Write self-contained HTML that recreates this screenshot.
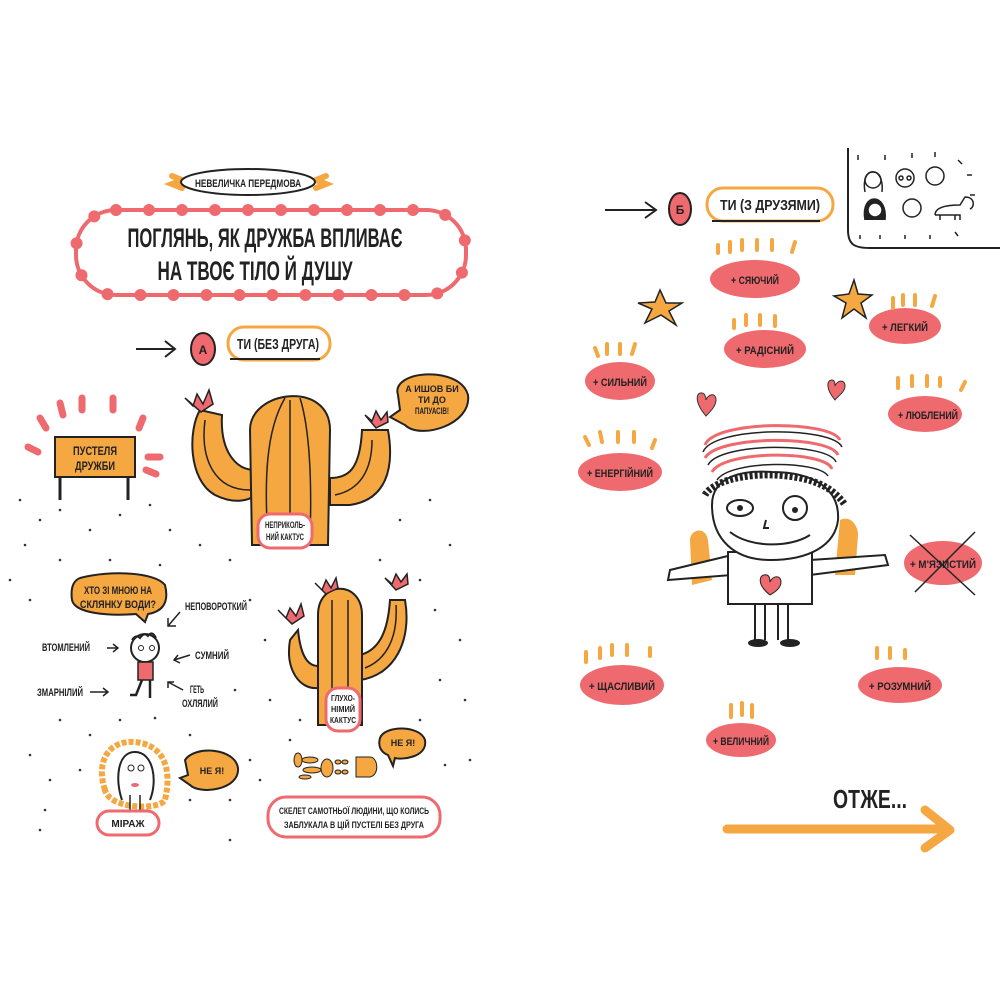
<!DOCTYPE html>
<html><head><meta charset="utf-8"><style>
html,body{margin:0;padding:0;background:#fff;}
svg{display:block}
text{font-family:"Liberation Sans","DejaVu Sans",sans-serif;font-weight:bold;fill:#222;}
</style></head><body>
<svg width="1000" height="1000" viewBox="0 0 1000 1000" xmlns="http://www.w3.org/2000/svg">
<defs>
<g id="tk"><line x1="0" y1="0" x2="0" y2="10" stroke="#f5a742" stroke-width="4" stroke-linecap="round"/></g>
</defs>
<rect width="1000" height="1000" fill="#fff"/>

<!-- desert dots -->
<g fill="#333">
<circle cx="20" cy="500" r="1.3"/><circle cx="40" cy="520" r="1.3"/><circle cx="25" cy="545" r="1.3"/><circle cx="60" cy="510" r="1.3"/><circle cx="90" cy="530" r="1.3"/><circle cx="120" cy="515" r="1.3"/><circle cx="150" cy="505" r="1.3"/><circle cx="170" cy="530" r="1.3"/><circle cx="200" cy="545" r="1.3"/><circle cx="60" cy="560" r="1.3"/><circle cx="110" cy="560" r="1.3"/><circle cx="160" cy="565" r="1.3"/><circle cx="230" cy="560" r="1.3"/><circle cx="10" cy="580" r="1.3"/><circle cx="30" cy="600" r="1.3"/><circle cx="250" cy="600" r="1.3"/><circle cx="265" cy="640" r="1.3"/><circle cx="430" cy="500" r="1.3"/><circle cx="400" cy="520" r="1.3"/><circle cx="450" cy="545" r="1.3"/><circle cx="380" cy="560" r="1.3"/><circle cx="420" cy="580" r="1.3"/><circle cx="435" cy="610" r="1.3"/><circle cx="460" cy="640" r="1.3"/><circle cx="440" cy="680" r="1.3"/><circle cx="465" cy="700" r="1.3"/><circle cx="420" cy="720" r="1.3"/><circle cx="60" cy="720" r="1.3"/><circle cx="90" cy="735" r="1.3"/><circle cx="120" cy="720" r="1.3"/><circle cx="155" cy="718" r="1.3"/><circle cx="190" cy="735" r="1.3"/><circle cx="30" cy="755" r="1.3"/><circle cx="50" cy="780" r="1.3"/><circle cx="80" cy="770" r="1.3"/><circle cx="45" cy="810" r="1.3"/><circle cx="40" cy="830" r="1.3"/><circle cx="190" cy="800" r="1.3"/><circle cx="230" cy="800" r="1.3"/><circle cx="250" cy="760" r="1.3"/><circle cx="260" cy="780" r="1.3"/><circle cx="290" cy="740" r="1.3"/><circle cx="270" cy="700" r="1.3"/><circle cx="445" cy="765" r="1.3"/><circle cx="470" cy="760" r="1.3"/><circle cx="230" cy="840" r="1.3"/><circle cx="300" cy="720" r="1.3"/><circle cx="235" cy="690" r="1.3"/>
</g>

<!-- header pill -->
<path d="M172 176 l10 4 l-10 4 l10 4 M326 176 l-10 4 l10 4 l-10 4" stroke="#f5a742" stroke-width="6" fill="none" stroke-linecap="round"/>
<ellipse cx="248" cy="182" rx="67" ry="13" fill="#fff" stroke="#222" stroke-width="2"/>
<text x="248" y="187" font-size="11" text-anchor="middle" textLength="106" lengthAdjust="spacingAndGlyphs">НЕВЕЛИЧКА ПЕРЕДМОВА</text>

<!-- title dotted frame -->
<rect x="76" y="210" width="390" height="85" rx="40" fill="none" stroke="#ee6a6f" stroke-width="4"/>
<rect x="76" y="210" width="390" height="85" rx="40" fill="none" stroke="#ee6a6f" stroke-width="12" stroke-dasharray="0 33" stroke-linecap="round"/>
<text x="265" y="247" font-size="27" text-anchor="middle" textLength="275" lengthAdjust="spacingAndGlyphs">ПОГЛЯНЬ, ЯК ДРУЖБА ВПЛИВАЄ</text>
<text x="255" y="280" font-size="27" text-anchor="middle" textLength="195" lengthAdjust="spacingAndGlyphs">НА ТВОЄ ТІЛО Й ДУШУ</text>

<!-- A section -->
<path d="M136 349 H174 M165 341 L175 349 L165 357" stroke="#222" stroke-width="2" fill="none"/>
<ellipse cx="203" cy="349" rx="12" ry="16" fill="#ee6a6f" stroke="#222" stroke-width="2"/>
<text x="203" y="354" font-size="12" text-anchor="middle">А</text>
<rect x="228" y="327" width="102" height="33" rx="16" fill="#fff" stroke="#f5a742" stroke-width="3"/>
<line x1="230" y1="359" x2="320" y2="359" stroke="#222" stroke-width="2"/>
<text x="278" y="349" font-size="15" text-anchor="middle" textLength="82" lengthAdjust="spacingAndGlyphs">ТИ (БЕЗ ДРУГА)</text>

<!-- sign -->
<g stroke="#ee6a6f" stroke-width="7" stroke-linecap="round">
<line x1="60" y1="403" x2="63" y2="415"/><line x1="82" y1="398" x2="82" y2="410"/><line x1="113" y1="398" x2="113" y2="410"/><line x1="143" y1="418" x2="139" y2="428"/><line x1="40" y1="418" x2="46" y2="428"/><line x1="28" y1="447" x2="38" y2="452"/><line x1="148" y1="457" x2="160" y2="457"/><line x1="146" y1="470" x2="156" y2="474"/>
</g>
<rect x="55" y="437" width="80" height="40" fill="#f5a742" stroke="#222" stroke-width="2"/>
<text x="95" y="455" font-size="12" text-anchor="middle" textLength="44" lengthAdjust="spacingAndGlyphs">ПУСТЕЛЯ</text>
<text x="95" y="470" font-size="12" text-anchor="middle" textLength="40" lengthAdjust="spacingAndGlyphs">ДРУЖБИ</text>
<path d="M60 477 V500 M128 477 V500" stroke="#222" stroke-width="3"/>

<!-- cactus 1 -->
<g stroke="#222" stroke-width="2" fill="#f5a742">
<path d="M200 410 C188 430 188 480 215 495 C235 505 250 500 255 495 L255 470 C235 470 220 450 222 415 Z"/>
<path d="M388 430 C395 470 385 500 350 505 L330 505 L330 478 C348 478 360 470 362 430 Z"/>
<path d="M252 545 L250 430 C250 390 330 380 330 430 L328 545 Z"/>
</g>
<g stroke="#222" stroke-width="1.5" fill="none">
<path d="M268 540 C264 480 266 430 285 398 M290 540 V400 M310 540 C312 480 310 430 300 398"/>
<path d="M205 420 C200 460 215 490 250 490 M372 440 C372 470 360 490 335 495"/>
</g>
<path d="M185 398 l8 8 l4-12 l6 10 l6-14 l4 14 l-12 8 z" fill="#ee6a6f" stroke="#222" stroke-width="1.5"/>
<path d="M365 415 l7 6 l4-10 l5 9 l6-8 l1 10 l-12 6 z" fill="#ee6a6f" stroke="#222" stroke-width="1.5"/>
<path d="M398 395 C390 370 460 365 468 395 C472 425 420 440 405 425 L390 417 L400 410 Z" fill="#f5a742" stroke="#222" stroke-width="2"/>
<text x="432" y="392" font-size="9" text-anchor="middle">А ИШОВ БИ</text>
<text x="432" y="403" font-size="9" text-anchor="middle">ТИ ДО</text>
<text x="432" y="414" font-size="9" text-anchor="middle" textLength="34" lengthAdjust="spacingAndGlyphs">ПАПУАСІВ!</text>
<rect x="258" y="514" width="54" height="34" rx="12" fill="#fff" stroke="#ee6a6f" stroke-width="3"/>
<text x="285" y="528" font-size="9" text-anchor="middle" textLength="40" lengthAdjust="spacingAndGlyphs">НЕПРИКОЛЬ-</text>
<text x="285" y="540" font-size="9" text-anchor="middle" textLength="38" lengthAdjust="spacingAndGlyphs">НИЙ КАКТУС</text>

<!-- question bubble + boy -->
<path d="M80 578 C110 570 155 572 165 585 C170 605 160 612 148 614 L145 622 L136 614 C110 616 75 614 72 600 C70 585 75 580 80 578Z" fill="#f5a742" stroke="#222" stroke-width="2"/>
<text x="118" y="594" font-size="11" text-anchor="middle" textLength="68" lengthAdjust="spacingAndGlyphs">ХТО ЗІ МНОЮ НА</text>
<text x="118" y="608" font-size="11" text-anchor="middle" textLength="76" lengthAdjust="spacingAndGlyphs">СКЛЯНКУ ВОДИ?</text>
<text x="185" y="610" font-size="11" textLength="62" lengthAdjust="spacingAndGlyphs">НЕПОВОРОТКИЙ</text>
<text x="42" y="651" font-size="11" textLength="48" lengthAdjust="spacingAndGlyphs">ВТОМЛЕНИЙ</text>
<text x="195" y="659" font-size="11" textLength="34" lengthAdjust="spacingAndGlyphs">СУМНИЙ</text>
<text x="37" y="696" font-size="11" textLength="46" lengthAdjust="spacingAndGlyphs">ЗМАРНІЛИЙ</text>
<text x="190" y="693" font-size="11" textLength="14" lengthAdjust="spacingAndGlyphs">ГЕТЬ</text>
<text x="182" y="707" font-size="11" textLength="36" lengthAdjust="spacingAndGlyphs">ОХЛЯЛИЙ</text>
<g stroke="#222" stroke-width="1.5" fill="none">
<path d="M180 612 L168 626 M168 618 V626 H176"/>
<path d="M107 648 H118 M113 644 L118 648 L113 652"/>
<path d="M190 655 L174 660 M178 655 L174 660 L180 663"/>
<path d="M90 692 H108 M103 688 L108 692 L103 696"/>
<path d="M183 690 L168 682 M168 688 V682 H174"/>
</g>
<circle cx="145" cy="648" r="14" fill="#fff" stroke="#222" stroke-width="2"/>
<path d="M132 640 q4-6 8-2 q4-6 8-2 q4-6 8 2" stroke="#222" stroke-width="2" fill="none"/>
<circle cx="141" cy="648" r="2.5" fill="none" stroke="#222"/><circle cx="152" cy="648" r="2.5" fill="none" stroke="#222"/>
<path d="M138 662 h15 v18 h-15z" fill="#ee6a6f" stroke="#222" stroke-width="1.5"/>
<path d="M142 680 L136 695 H130 M150 680 L150 698" stroke="#222" stroke-width="2.5" fill="none"/>

<!-- cactus 2 -->
<g stroke="#222" stroke-width="2" fill="#f5a742">
<path d="M290 640 C285 670 300 690 318 688 L318 666 C305 666 300 650 298 630 Z"/>
<path d="M405 600 C412 640 395 675 360 680 L360 655 C380 650 388 630 390 600 Z"/>
<path d="M318 725 L318 615 C318 580 362 580 362 615 L362 725 Z"/>
</g>
<g stroke="#222" stroke-width="1.5" fill="none"><path d="M332 720 V600 M348 720 V600 M396 605 C398 640 385 660 365 668"/></g>
<path d="M278 610 l8 8 l4-10 l6 8 l5-12 l3 12 l-12 8 z" fill="#ee6a6f" stroke="#222" stroke-width="1.5"/>
<path d="M315 583 l7 7 l4-10 l5 8 l5-10 l2 10 l-12 6 z" fill="#ee6a6f" stroke="#222" stroke-width="1.5"/>
<path d="M385 578 l7 6 l4-10 l5 8 l6-8 l1 10 l-12 6 z" fill="#ee6a6f" stroke="#222" stroke-width="1.5"/>
<rect x="326" y="688" width="34" height="43" rx="12" fill="#fff" stroke="#ee6a6f" stroke-width="3"/>
<text x="343" y="701" font-size="8" text-anchor="middle" textLength="24" lengthAdjust="spacingAndGlyphs">ГЛУХО-</text>
<text x="343" y="712" font-size="8" text-anchor="middle" textLength="24" lengthAdjust="spacingAndGlyphs">НІМИЙ</text>
<text x="343" y="723" font-size="8" text-anchor="middle" textLength="26" lengthAdjust="spacingAndGlyphs">КАКТУС</text>

<!-- mirage -->
<path d="M105 790 C95 760 110 740 135 742 C165 745 172 770 165 800 C160 810 110 810 105 790Z" fill="none" stroke="#f5a742" stroke-width="6" stroke-dasharray="5 2"/>
<path d="M122 800 C115 780 117 752 135 752 C153 752 158 780 150 800" fill="#fff" stroke="#222" stroke-width="2"/>
<circle cx="131" cy="768" r="3" fill="none" stroke="#222"/><circle cx="141" cy="768" r="3" fill="none" stroke="#222"/>
<ellipse cx="135" cy="785" rx="4" ry="2" fill="#ee6a6f"/>
<path d="M130 795 V810 M140 795 V810" stroke="#222" stroke-width="1.5"/>
<rect x="97" y="811" width="62" height="24" rx="12" fill="#fff" stroke="#ee6a6f" stroke-width="3"/>
<text x="128" y="827" font-size="10" text-anchor="middle">МІРАЖ</text>
<path d="M185 760 C195 745 235 748 238 768 C240 790 200 795 190 785 L180 778 L188 775 Z" fill="#f5a742" stroke="#222" stroke-width="2"/>
<text x="212" y="774" font-size="9" text-anchor="middle">НЕ Я!</text>

<!-- skeleton -->
<g fill="#f5a742" stroke="#222" stroke-width="1">
<ellipse cx="298" cy="760" rx="4" ry="7"/><ellipse cx="310" cy="760" rx="8" ry="3"/><ellipse cx="312" cy="770" rx="9" ry="3"/><ellipse cx="305" cy="777" rx="6" ry="2"/>
<ellipse cx="327" cy="768" rx="6" ry="9"/><ellipse cx="338" cy="762" rx="3" ry="2"/><ellipse cx="345" cy="762" rx="3" ry="2"/><ellipse cx="338" cy="772" rx="3" ry="2"/><ellipse cx="345" cy="772" rx="3" ry="2"/>
<path d="M356 757 h14 c8 0 10 18 0 20 h-14 z"/>
</g>
<path d="M380 738 C385 725 420 725 425 740 C428 758 400 760 395 758 L393 766 L388 755 C380 752 378 745 380 738Z" fill="#f5a742" stroke="#222" stroke-width="2"/>
<text x="403" y="746" font-size="9" text-anchor="middle">НЕ Я!</text>
<rect x="268" y="797" width="172" height="40" rx="18" fill="#fff" stroke="#ee6a6f" stroke-width="3"/>
<text x="354" y="814" font-size="9" text-anchor="middle" textLength="150" lengthAdjust="spacingAndGlyphs">СКЕЛЕТ САМОТНЬОЇ ЛЮДИНИ, ЩО КОЛИСЬ</text>
<text x="354" y="828" font-size="9" text-anchor="middle" textLength="140" lengthAdjust="spacingAndGlyphs">ЗАБЛУКАЛА В ЦІЙ ПУСТЕЛІ БЕЗ ДРУГА</text>

<!-- RIGHT PAGE -->
<path d="M605 210 H655 M645 202 L656 210 L645 218" stroke="#222" stroke-width="2" fill="none"/>
<ellipse cx="680" cy="209" rx="11" ry="16" fill="#ee6a6f" stroke="#222" stroke-width="2"/>
<text x="680" y="214" font-size="12" text-anchor="middle">Б</text>
<rect x="707" y="188" width="126" height="33" rx="16" fill="#fff" stroke="#f5a742" stroke-width="3"/>
<line x1="712" y1="221" x2="820" y2="221" stroke="#222" stroke-width="2"/>
<text x="770" y="210" font-size="15" text-anchor="middle" textLength="100" lengthAdjust="spacingAndGlyphs">ТИ (З ДРУЗЯМИ)</text>

<path d="M848 148 V230 C848 245 855 248 870 248 H1000" stroke="#222" stroke-width="2" fill="none"/>
<g stroke="#222" stroke-width="1.5" fill="none">
<path d="M865 192 C860 165 885 165 882 192"/><circle cx="873" cy="180" r="8"/>
<circle cx="905" cy="178" r="9"/><circle cx="901" cy="178" r="2"/><circle cx="909" cy="178" r="2"/>
<circle cx="935" cy="176" r="9"/>
<path d="M865 220 C860 192 888 192 885 220" fill="#222"/><circle cx="875" cy="210" r="7" fill="#fff"/>
<circle cx="912" cy="208" r="9"/>
<path d="M935 215 h25 v5 M940 215 v5 M955 215 v5 M935 215 c0-10 20-10 25-10 l5-8 c10 0 10 10 5 12"/>
<path d="M858 155 v5 M885 155 v5 M912 153 v5 M935 152 v5 M958 160 l4 4 M967 175 h5 M970 195 h5 M860 235 v4 M880 235 v4 M905 235 v4 M930 235 v4 M955 232 l3 4"/>
</g>

<!-- blobs with ticks -->
<g fill="#ee6a6f">
<ellipse cx="755" cy="279" rx="45" ry="19"/>
<ellipse cx="765" cy="349" rx="41" ry="19"/>
<ellipse cx="905" cy="326" rx="36" ry="18"/>
<ellipse cx="620" cy="381" rx="35" ry="19"/>
<ellipse cx="925" cy="414" rx="37" ry="18"/>
<ellipse cx="620" cy="472" rx="42" ry="19"/>
<ellipse cx="943" cy="563" rx="39" ry="22"/>
<ellipse cx="622" cy="685" rx="42" ry="20"/>
<ellipse cx="900" cy="685" rx="42" ry="18"/>
<ellipse cx="741" cy="740" rx="35" ry="17"/>
</g>
<g stroke="#f5a742" stroke-width="4" stroke-linecap="round">
<path d="M718 245 v8 M730 242 v10 M742 240 v10 M757 240 v10 M772 240 v10 M795 242 l-3 10"/>
<path d="M734 320 v8 M746 315 v10 M760 315 v10 M775 316 v10"/>
<path d="M893 298 v10 M903 295 v10 M915 295 v10 M935 296 l-3 10"/>
<path d="M595 348 l3 8 M607 344 v10 M620 344 v10 M635 344 l-3 10"/>
<path d="M898 378 v10 M912 376 v10 M927 376 v10 M940 378 v8 M965 382 l-4 8"/>
<path d="M585 437 l4 8 M600 432 l2 10 M618 432 v10 M634 432 v10 M655 440 l-3 8"/>
<path d="M586 652 v10 M600 648 v10 M612 645 v10 M627 645 v10 M650 648 v8"/>
<path d="M877 648 v10 M890 648 v10 M905 650 v8"/>
<path d="M731 705 v12 M742 703 v12 M752 705 v12"/>
</g>
<g font-size="11">
<text x="755" y="284" text-anchor="middle" textLength="48" lengthAdjust="spacingAndGlyphs">+ СЯЮЧИЙ</text>
<text x="765" y="354" text-anchor="middle" textLength="58" lengthAdjust="spacingAndGlyphs">+ РАДІСНИЙ</text>
<text x="905" y="331" text-anchor="middle" textLength="46" lengthAdjust="spacingAndGlyphs">+ ЛЕГКИЙ</text>
<text x="620" y="386" text-anchor="middle" textLength="54" lengthAdjust="spacingAndGlyphs">+ СИЛЬНИЙ</text>
<text x="928" y="419" text-anchor="middle" textLength="60" lengthAdjust="spacingAndGlyphs">+ ЛЮБЛЕНИЙ</text>
<text x="620" y="477" text-anchor="middle" textLength="66" lengthAdjust="spacingAndGlyphs">+ ЕНЕРГІЙНИЙ</text>
<text x="943" y="568" text-anchor="middle" textLength="66" lengthAdjust="spacingAndGlyphs">+ М'ЯЗИСТИЙ</text>
<text x="622" y="690" text-anchor="middle" textLength="66" lengthAdjust="spacingAndGlyphs">+ ЩАСЛИВИЙ</text>
<text x="900" y="690" text-anchor="middle" textLength="62" lengthAdjust="spacingAndGlyphs">+ РОЗУМНИЙ</text>
<text x="741" y="745" text-anchor="middle" textLength="56" lengthAdjust="spacingAndGlyphs">+ ВЕЛИЧНИЙ</text>
</g>
<path d="M910 535 L975 595 M975 532 L915 592" stroke="#222" stroke-width="1.5"/>

<!-- stars and hearts -->
<path d="M660 290 L666 303 L682 303 L669 311 L676 325 L661 315 L645 323 L652 309 L638 303 L655 302Z" fill="#f5a742" stroke="#222" stroke-width="1.5"/>
<path d="M854 280 L858 294 L872 295 L861 303 L866 318 L854 309 L842 318 L846 303 L834 296 L849 294Z" fill="#f5a742" stroke="#222" stroke-width="1.5"/>
<path d="M706 416 C694 402 696 392 702 393 C705 393 706 398 706 400 C708 394 716 392 716 400 C716 406 710 412 706 416Z" fill="#ee6a6f" stroke="#333" stroke-width="1"/>
<path d="M835 400 C825 388 827 380 832 380 C835 380 835 384 835 386 C837 380 845 379 845 386 C845 392 838 396 835 400Z" fill="#ee6a6f" stroke="#333" stroke-width="1"/>

<!-- rainbow -->
<g fill="none" stroke-width="3">
<path d="M705 445 C715 420 830 420 840 440" stroke="#ee6a6f"/>
<path d="M703 452 C713 426 832 426 842 447" stroke="#222" stroke-width="1.5"/>
<path d="M705 458 C718 435 830 435 838 455" stroke="#ee6a6f"/>
<path d="M708 465 C720 442 828 442 836 462" stroke="#222" stroke-width="1.5"/>
<path d="M712 472 C724 450 825 450 832 469" stroke="#ee6a6f"/>
<path d="M717 480 C730 460 818 460 828 476" stroke="#222" stroke-width="1.5"/>
</g>

<!-- person -->
<path d="M690 540 C690 530 705 525 708 540 L712 580 L692 585Z" fill="#f5a742"/>
<path d="M840 520 C850 515 858 525 858 535 L855 575 L835 575Z" fill="#f5a742"/>
<path d="M732 555 L670 570 L668 580 L732 575 Z M810 560 L885 555 L888 565 L810 575Z" fill="#fff" stroke="#222" stroke-width="2"/>
<rect x="728" y="552" width="84" height="52" fill="#fff" stroke="#222" stroke-width="2"/>
<path d="M755 605 V640 M765 605 V640 M778 605 V640 M788 605 V640" stroke="#222" stroke-width="2"/>
<ellipse cx="758" cy="643" rx="10" ry="4" fill="#222"/><ellipse cx="790" cy="643" rx="10" ry="4" fill="#222"/>
<path d="M770 595 C755 583 760 573 767 575 C770 576 770 580 770 582 C773 575 781 575 781 582 C781 588 775 592 770 595Z" fill="#ee6a6f" stroke="#222" stroke-width="1"/>
<path d="M712 505 C712 475 745 470 772 472 C815 472 840 490 838 520 C835 545 810 560 770 560 C735 560 712 540 712 505Z" fill="#fff" stroke="#222" stroke-width="2"/>
<path d="M705 495 C715 478 760 470 800 478 C820 482 835 490 845 505" stroke="#222" stroke-width="7" fill="none" stroke-dasharray="3 2"/>
<ellipse cx="740" cy="508" rx="13" ry="8" fill="#fff" stroke="#222" stroke-width="2"/><circle cx="740" cy="508" r="3" fill="#222"/>
<circle cx="795" cy="508" r="12" fill="#fff" stroke="#222" stroke-width="2"/><circle cx="795" cy="510" r="3" fill="#222"/>
<path d="M730 532 C750 548 790 548 810 535 M766 520 l-2 8 h5" stroke="#222" stroke-width="2" fill="none"/>

<!-- otzhe -->
<text x="870" y="808" font-size="26" text-anchor="middle" textLength="74" lengthAdjust="spacingAndGlyphs">ОТЖЕ...</text>
<path d="M727 829 H948 M925 810 L950 830 L925 848" stroke="#f5a742" stroke-width="9" fill="none" stroke-linecap="round" stroke-linejoin="round"/>
</svg>
</body></html>
